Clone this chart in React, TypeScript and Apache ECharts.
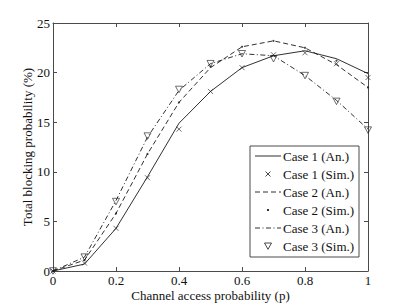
import React, { useEffect, useRef } from "react";
import * as echarts from "echarts";

const pValues = [0, 0.1, 0.2, 0.3, 0.4, 0.5, 0.6, 0.7, 0.8, 0.9, 1];
const case1An = [0, 0.7, 4.3, 9.5, 14.9, 18.1, 20.5, 21.7, 22.2, 21.4, 19.9];
const case1Sim = [0, 0.8, 4.3, 9.4, 14.3, 18.1, 20.5, 21.8, 22.0, 20.9, 19.5];
const case2An = [0, 1.1, 5.8, 11.8, 17.0, 20.5, 22.6, 23.2, 22.5, 20.8, 18.5];
const case2Sim = [0, 1.1, 5.8, 11.8, 17.0, 20.6, 22.6, 23.2, 22.5, 21.2, 18.5];
const case3An = [0, 1.4, 7.1, 13.5, 18.2, 20.9, 21.9, 21.7, 19.7, 17.2, 14.3];
const case3Sim = [0, 1.4, 7.0, 13.6, 18.3, 20.9, 21.9, 21.4, 19.7, 17.1, 14.2];
const legendNames = [
  "Case 1 (An.)",
  "Case 1 (Sim.)",
  "Case 2 (An.)",
  "Case 2 (Sim.)",
  "Case 3 (An.)",
  "Case 3 (Sim.)",
];

const FONT = "'Liberation Serif', 'Times New Roman', serif";
const AXIS = "#4a4a4a";
const INK = "#1a1a1a";
const X_SYMBOL = "path://M0,0L10,10M10,0L0,10";
const TRI_SYMBOL = "path://M0,0L10,0L5,9Z";

const pair = (ys: number[]) => pValues.map((x, i) => [x, ys[i]]);

export default function App() {
  const ref = useRef<HTMLDivElement>(null);
  useEffect(() => {
    if (!ref.current) return;
    const chart = echarts.init(ref.current, undefined, { renderer: "svg" });

    const lx = 250, ly = 146, lw = 109, lh = 111;
    const rowY = (i: number) => ly + 10 + i * 18;
    const sx0 = 255, sx1 = 281, mx = 268, tx = 283;
    const graphics: any[] = [
      { type: "rect", shape: { x: lx, y: ly, width: lw, height: lh }, style: { fill: "#fff", stroke: AXIS, lineWidth: 1 }, z: 100 },
    ];
    const lineDash = [null, null, [5, 3], null, [5, 2.5, 1, 2.5], null];
    legendNames.forEach((name, i) => {
      const y = rowY(i);
      if (i % 2 === 0) {
        graphics.push({
          type: "line",
          shape: { x1: sx0, y1: y, x2: sx1, y2: y },
          style: { stroke: INK, lineWidth: 0.9, lineDash: lineDash[i] || undefined },
          z: 101,
        });
      } else if (i === 1) {
        graphics.push({ type: "line", shape: { x1: mx - 2.5, y1: y - 2.5, x2: mx + 2.5, y2: y + 2.5 }, style: { stroke: INK, lineWidth: 0.8 }, z: 101 });
        graphics.push({ type: "line", shape: { x1: mx - 2.5, y1: y + 2.5, x2: mx + 2.5, y2: y - 2.5 }, style: { stroke: INK, lineWidth: 0.8 }, z: 101 });
      } else if (i === 3) {
        graphics.push({ type: "circle", shape: { cx: mx, cy: y, r: 1.1 }, style: { fill: INK }, z: 101 });
      } else {
        graphics.push({
          type: "polygon",
          shape: { points: [[mx - 3.5, y - 3], [mx + 3.5, y - 3], [mx, y + 3.3]] },
          style: { fill: "none", stroke: INK, lineWidth: 0.8 },
          z: 101,
        });
      }
      graphics.push({
        type: "text",
        x: tx,
        y,
        style: { text: name, font: `13px ${FONT}`, fill: "#111", verticalAlign: "middle", align: "left" },
        z: 101,
      });
    });

    const axisCommon = {
      type: "value" as const,
      axisLine: { show: true, onZero: false, lineStyle: { color: AXIS, width: 1 } },
      axisTick: { show: true, inside: true, length: 4, lineStyle: { color: AXIS, width: 1 } },
      splitLine: { show: false },
    };
    const labelStyle = { color: "#111", fontFamily: FONT, fontSize: 13 };

    chart.setOption({
      animation: false,
      backgroundColor: "#fff",
      grid: { left: 53, right: 39, top: 23, bottom: 35, containLabel: false },
      xAxis: [
        {
          ...axisCommon,
          position: "bottom",
          min: 0,
          max: 1,
          interval: 0.2,
          axisLabel: { ...labelStyle, margin: 3, lineHeight: 13 },
          name: "Channel access probability (p)",
          nameLocation: "middle",
          nameGap: 18,
          nameMoveOverlap: false,
          nameTextStyle: { ...labelStyle, lineHeight: 13, verticalAlign: "top" },
        },
        {
          ...axisCommon,
          position: "top",
          min: 0,
          max: 1,
          interval: 0.2,
          axisLabel: { show: false },
        },
      ],
      yAxis: [
        {
          ...axisCommon,
          position: "left",
          min: 0,
          max: 25,
          interval: 5,
          axisLabel: { ...labelStyle, margin: 3 },
          name: "Total blocking probability (%)",
          nameLocation: "middle",
          nameGap: 19,
          nameMoveOverlap: false,
          nameTextStyle: { ...labelStyle },
        },
        {
          ...axisCommon,
          position: "right",
          min: 0,
          max: 25,
          interval: 5,
          axisLabel: { show: false },
        },
      ],
      series: [
        {
          name: legendNames[0],
          type: "line",
          data: pair(case1An),
          symbol: "none",
          lineStyle: { color: INK, width: 0.9 },
        },
        {
          name: legendNames[1],
          type: "scatter",
          data: pair(case1Sim),
          symbol: X_SYMBOL,
          symbolSize: 5,
          itemStyle: { color: "none", borderColor: INK, borderWidth: 0.8 },
        },
        {
          name: legendNames[2],
          type: "line",
          data: pair(case2An),
          symbol: "none",
          lineStyle: { color: INK, width: 0.9, type: [5, 3] },
        },
        {
          name: legendNames[3],
          type: "scatter",
          data: pair(case2Sim),
          symbol: "circle",
          symbolSize: 2.2,
          itemStyle: { color: INK },
        },
        {
          name: legendNames[4],
          type: "line",
          data: pair(case3An),
          symbol: "none",
          lineStyle: { color: INK, width: 0.9, type: [5, 2.5, 1, 2.5] },
        },
        {
          name: legendNames[5],
          type: "scatter",
          data: pair(case3Sim),
          symbol: TRI_SYMBOL,
          symbolSize: [7, 6.5],
          itemStyle: { color: "none", borderColor: INK, borderWidth: 0.8 },
        },
      ],
      graphic: graphics,
    });
    return () => chart.dispose();
  }, []);
  return (
    <div
      ref={ref}
      style={{ position: "absolute", left: 0, top: 0, width: 407, height: 307 }}
    />
  );
}
